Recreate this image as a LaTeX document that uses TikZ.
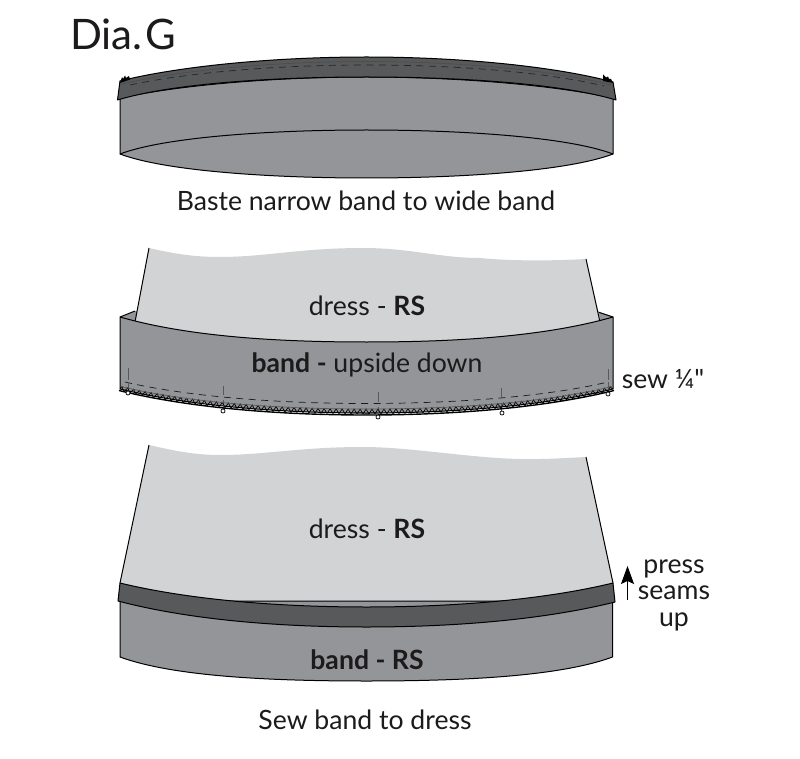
\documentclass[tikz,border=0pt]{standalone}
\usepackage{fontspec}
\setmainfont{Lato}
\newfontfamily\rawlato{Lato}
\usetikzlibrary{decorations.pathmorphing,arrows.meta}
\definecolor{bandgray}{HTML}{939598}
\definecolor{dressgray}{HTML}{D1D3D4}
\definecolor{seamgray}{HTML}{58595B}
\definecolor{inkc}{HTML}{1C1A1B}
\tikzset{
  x=1pt,y=-1pt,
  outline/.style={draw=black,line width=1pt,line join=round},
  bandfill/.style={fill=bandgray},
  dressfill/.style={fill=dressgray},
  seamfill/.style={fill=seamgray},
  stitch/.style={draw=inkc,line width=.7pt,dash pattern=on 7pt off 5.5pt},
  notch/.style={draw=seamgray,line width=.7pt},
  pin/.style={draw=black,fill=white,line width=.7pt},
  label/.style={text=inkc,font=\fontsize{26.6}{30}\selectfont,inner sep=0pt,anchor=center},
}
\begin{document}
\begin{tikzpicture}
\useasboundingbox (0,0) rectangle (800,759);
\fill[white] (0,0) rectangle (800,759);
% ---- top band
\path[outline,bandfill] (120,98) -- (120,154) .. controls (165,171) and (270,178) .. (366.5,178) .. controls (463,178) and (568,171) .. (613,154) -- (613,98) .. controls (553,85) and (458,77) .. (366.5,77) .. controls (275,77) and (180,85) .. (120,98) -- cycle;
\draw[outline] (120,154) .. controls (165,137) and (270,130) .. (366.5,130) .. controls (463,130) and (568,137) .. (613,154);
\path[outline,seamfill] (117.5,100) .. controls (170,84) and (270,77) .. (366.5,77) .. controls (463,77) and (563,84) .. (616,100) -- (613,82) .. controls (553,66) and (458,57) .. (366.5,57) .. controls (275,57) and (180,66) .. (120,81) -- cycle;
\draw[draw=black!70,line width=.6pt] (122,84) .. controls (180,70) and (275,61.5) .. (366.5,61.5) .. controls (458,61.5) and (553,70) .. (611,85);
\draw[stitch,draw=black!85] (130,85) .. controls (190,72) and (280,65) .. (366.5,65) .. controls (458,65) and (545,72) .. (604,86);
\fill[black] (120,83) -- (122,77) -- (123,79) -- (125,75.5) -- (126,78) -- (129,76) -- (130,79.5) -- cycle;
\fill[black] (613,83) -- (611,79) -- (609,79) -- (608,76.5) -- (606,77.5) -- (603,74.5) -- (603,81) -- cycle;
% ---- middle dress and band
\path[bandfill] (120,317) -- (135,311) -- (598,312) -- (613,317) -- (613,389) -- (366.5,415) -- (120,389) -- cycle;
\draw[outline] (120,317) -- (135,311);
\draw[outline] (613,317) -- (598,312);
\path[dressfill] (149,248) .. controls (175,254) and (195,257) .. (220,257) .. controls (265,257) and (300,248) .. (363,248) .. controls (410,248) and (440,258) .. (480,258) .. controls (510,261) and (550,261) .. (586,259) -- (601,323) .. controls (545,336) and (456,342) .. (366.5,342) .. controls (280,342) and (190,337) .. (135,322) -- cycle;
\draw[outline] (149,248) -- (135,322);
\draw[outline] (586,259) -- (600,322);
\path[outline,bandfill] (120,317) -- (120,389) .. controls (190,406) and (280,413) .. (366.5,413) .. controls (453,413) and (543,406) .. (613,389) -- (613,317) .. controls (543,337) and (453,342) .. (366.5,342) .. controls (280,342) and (190,337) .. (120,317) -- cycle;
\draw[stitch] (125,382) .. controls (190,397) and (280,403.5) .. (366.5,403.5) .. controls (453,403.5) and (545,397) .. (608,382);
\foreach \nx/\na/\nb/\nc/\nd in {128/368/380/382/391, 223/386/395/400/409, 378/392/402/407/415, 501/388/398/403/411, 608/369/380/382/392}{
  \draw[notch] (\nx,\na) -- (\nx,\nb);
  \draw[notch] (\nx,\nc) -- (\nx,\nd);
}
\draw[draw=black,line width=.7pt,decorate,decoration={zigzag,segment length=6pt,amplitude=2.4pt}] (120,388.5) .. controls (190,405) and (280,411.5) .. (366.5,411.5) .. controls (453,411.5) and (543,405) .. (613,388.5);
\draw[draw=black,line width=1.4pt] (119,390.5) .. controls (190,408) and (280,415) .. (366.5,415) .. controls (453,415) and (543,408) .. (614,390.5);
\draw[draw=seamgray,line width=.7pt] (121,386.5) .. controls (190,403) and (280,409) .. (366.5,409) .. controls (453,409) and (543,403) .. (612,386.5);
\foreach \px/\py in {128/393, 223/411, 378/417, 502/413, 608/394}{
  \draw[pin] (\px,\py) circle (2);
}
% ---- bottom dress and band
\path[dressfill] (149,445) .. controls (175,451) and (195,455) .. (220,455) .. controls (265,455) and (300,447) .. (363,447) .. controls (410,447) and (470,458) .. (520,459) .. controls (545,459.5) and (565,458) .. (586,457) -- (613,583) -- (613,590) -- (366,615) -- (120,590) -- (120,583) -- cycle;
\draw[outline] (149,445) -- (120,583);
\draw[outline] (586,457) -- (613,583);
\path[outline,bandfill] (120,601) -- (120,657) .. controls (172,676) and (265,681) .. (366.5,681) .. controls (468,681) and (561,676) .. (612.5,657) -- (612.5,601) -- cycle;
\path[outline,seamfill] (120,583) .. controls (190,600) and (280,607) .. (366.5,607) .. controls (453,607) and (543,600) .. (613,583) -- (615,602) .. controls (543,620) and (453,627) .. (366.5,627) .. controls (280,627) and (190,620) .. (118,601) -- cycle;
% ---- arrow
\coordinate (arrowtail) at (627.5,600);
\coordinate (arrowhead) at (627.5,566);
\draw[draw=black,line width=1pt,-{Stealth[length=18pt,width=13pt,inset=3pt]}] (arrowtail) -- (arrowhead);
% ---- labels
\node[anchor=base west,text=inkc,font=\fontsize{42}{46}\selectfont,inner sep=0pt] (title) at (70,50) {Dia.\kern3pt G};
\node[label] (basteL) at (366,201) {Baste narrow band to wide band};
\node[label] (dressA) at (367,306) {dress - \textbf{RS}};
\node[label] (bandA) at (367,365) {\textbf{band -} upside down};
\node[label] (sewL) at (663,379) {sew ¼{\rawlato"}};
\node[label] (dressB) at (367,529) {dress - \textbf{RS}};
\node[label] (bandB) at (367,660) {\textbf{band - RS}};
\node[label] (sewB) at (365,720) {Sew band to dress};
\node[text=inkc,font=\fontsize{26.6}{26.5}\selectfont,inner sep=0pt,align=center,anchor=center] (press) at (674,595) {press\\seams\\up};
\end{tikzpicture}
\end{document}
